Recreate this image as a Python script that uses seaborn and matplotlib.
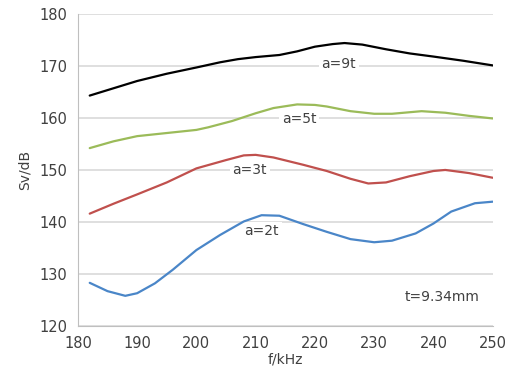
import pandas as pd
import matplotlib.pyplot as plt
import seaborn as sns

# valores
f_9t = [182, 186, 190, 195, 200, 204, 207, 210, 214, 217, 220, 223, 225, 228, 232, 236, 240, 245, 250]
sv_9t = [164.3, 165.7, 167.1, 168.5, 169.7, 170.7, 171.3, 171.7, 172.1, 172.8, 173.7, 174.2, 174.4, 174.1, 173.2, 172.4, 171.8, 171.0, 170.1]

f_5t = [182, 186, 190, 195, 200, 202, 206, 210, 213, 217, 220, 222, 226, 230, 233, 238, 242, 246, 250]
sv_5t = [154.2, 155.5, 156.5, 157.1, 157.7, 158.2, 159.4, 160.9, 161.9, 162.6, 162.5, 162.2, 161.3, 160.8, 160.8, 161.3, 161.0, 160.4, 159.9]

f_3t = [182, 186, 190, 195, 200, 205, 208, 210, 213, 218, 222, 226, 229, 232, 236, 240, 242, 246, 250]
sv_3t = [141.6, 143.5, 145.3, 147.6, 150.3, 151.9, 152.8, 152.9, 152.4, 151.0, 149.8, 148.3, 147.4, 147.6, 148.8, 149.8, 150.0, 149.4, 148.5]

f_2t = [182, 185, 188, 190, 193, 196, 200, 204, 208, 211, 214, 218, 222, 226, 230, 233, 237, 240, 243, 247, 250]
sv_2t = [128.3, 126.7, 125.8, 126.3, 128.2, 130.8, 134.6, 137.5, 140.1, 141.3, 141.2, 139.6, 138.1, 136.7, 136.1, 136.4, 137.8, 139.7, 142.0, 143.6, 143.9]

series = ['a=9t', 'a=5t', 'a=3t', 'a=2t']
colores = ['#000000', '#9BBB59', '#C0504D', '#4A86C8']

df = pd.concat([
    pd.DataFrame({'f': f_9t, 'sv': sv_9t, 'serie': 'a=9t'}),
    pd.DataFrame({'f': f_5t, 'sv': sv_5t, 'serie': 'a=5t'}),
    pd.DataFrame({'f': f_3t, 'sv': sv_3t, 'serie': 'a=3t'}),
    pd.DataFrame({'f': f_2t, 'sv': sv_2t, 'serie': 'a=2t'}),
])

# posiciones de las etiquetas
etq_x = [224, 217.3, 209, 211]
etq_y = [170.3, 159.7, 150.0, 138.2]

sns.set_style('white')
plt.rcParams['font.family'] = ['DejaVu Sans']

fig = plt.figure(figsize=(5.09, 3.76), dpi=100)
ax = fig.add_axes([0.153, 0.133, 0.815, 0.830])

sns.lineplot(data=df, x='f', y='sv', hue='serie', palette=dict(zip(series, colores)),
             linewidth=1.6, legend=False, ax=ax, zorder=3)

for nombre, x, y in zip(series, etq_x, etq_y):
    ax.text(x, y, nombre, ha='center', va='center', fontsize=10, color='#404040',
            bbox=dict(facecolor='white', edgecolor='none', pad=2), zorder=2)
ax.text(241.5, 125.5, 't=9.34mm', ha='center', va='center', fontsize=10, color='#404040')

ax.set_xlim(180, 250)
ax.set_ylim(120, 180)
ax.set_xticks(range(180, 251, 10))
ax.set_yticks(range(120, 181, 10))
ax.yaxis.grid(True, color='#D9D9D9', linewidth=1.2, zorder=0)
ax.set_axisbelow(True)
for lado in ['top', 'right']:
    ax.spines[lado].set_visible(False)
for lado in ['left', 'bottom']:
    ax.spines[lado].set_color('#BFBFBF')
ax.tick_params(axis='both', colors='#BFBFBF', labelcolor='#404040', labelsize=10.5, length=4, width=1)
ax.set_xlabel('f/kHz', fontsize=10, color='#404040', labelpad=1)
ax.set_ylabel('Sv/dB', fontsize=10, color='#404040', labelpad=6)

plt.savefig('out.png', dpi=100)
